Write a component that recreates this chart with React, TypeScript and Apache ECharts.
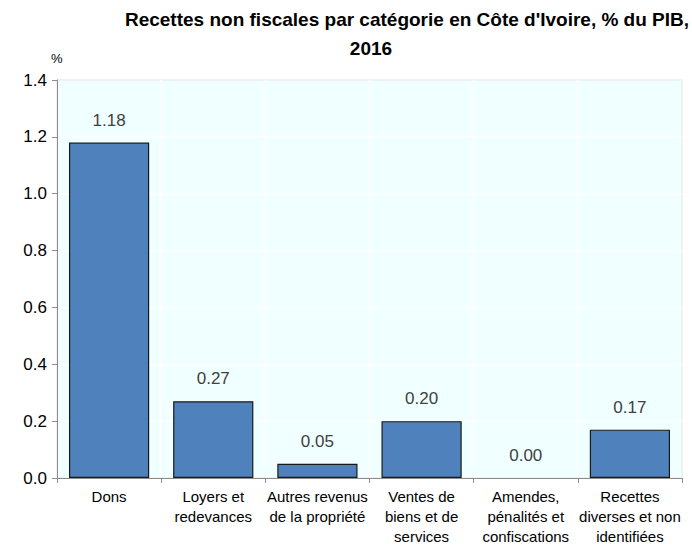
import React, { useEffect, useRef } from "react";
import * as echarts from "echarts";

const categories = [
  "Dons",
  "Loyers et\nredevances",
  "Autres revenus\nde la propriété",
  "Ventes de\nbiens et de\nservices",
  "Amendes,\npénalités et\nconfiscations",
  "Recettes\ndiverses et non\nidentifiées",
];
const values = [1.18, 0.27, 0.05, 0.2, 0.0, 0.17];
const titleLine1 = "Recettes non fiscales par catégorie en Côte d'Ivoire, % du PIB,";
const titleLine2 = "2016";
const yUnit = "%";

const FONT = "'Liberation Sans Narrow', 'Arial Narrow', 'Liberation Sans', Arial, sans-serif";
const TFONT = "'Liberation Sans', Arial, sans-serif";

export default function App() {
  const ref = useRef<HTMLDivElement>(null);
  useEffect(() => {
    if (!ref.current) return;
    const chart = echarts.init(ref.current, null, { renderer: "svg" });
    chart.setOption({
      animation: false,
      backgroundColor: "#ffffff",
      title: [
        {
          text: titleLine1,
          left: 402,
          top: 5,
          textAlign: "center",
          textStyle: { fontFamily: TFONT, fontWeight: "bold", fontSize: 19, color: "#000" },
        },
        {
          text: titleLine2,
          left: 366,
          top: 34,
          textAlign: "center",
          textStyle: { fontFamily: TFONT, fontWeight: "bold", fontSize: 19, color: "#000" },
        },
      ],
      graphic: [
        {
          type: "text",
          left: 51,
          top: 52,
          style: { text: yUnit, fontFamily: FONT, fontSize: 13, fill: "#000" },
        },
      ],
      grid: {
        left: 57,
        right: 10,
        top: 80,
        bottom: 66,
        show: true,
        backgroundColor: "#F0FFFF",
        borderColor: "#8c8c8c",
        borderWidth: 1,
      },
      xAxis: {
        type: "category",
        data: categories,
        axisLine: { show: true, lineStyle: { color: "#8c8c8c", width: 1 } },
        axisTick: { show: true, length: 5, lineStyle: { color: "#8c8c8c" } },
        splitLine: { show: true, lineStyle: { color: "#ffffff", width: 1.5 } },
        axisLabel: {
          interval: 0,
          fontFamily: FONT,
          fontSize: 15,
          color: "#000",
          lineHeight: 20,
          margin: 8,
        },
      },
      yAxis: {
        type: "value",
        min: 0,
        max: 1.4,
        interval: 0.2,
        axisLine: { show: true, lineStyle: { color: "#8c8c8c", width: 1 } },
        axisTick: { show: true, length: 5, lineStyle: { color: "#8c8c8c" } },
        splitLine: { show: true, lineStyle: { color: "#ffffff", width: 1.5 } },
        axisLabel: {
          fontFamily: FONT,
          fontSize: 17,
          color: "#000",
          margin: 10,
          formatter: (v: number) => v.toFixed(1),
        },
      },
      series: [
        {
          type: "bar",
          data: values.map((v) => (v === 0 ? { value: v, itemStyle: { borderWidth: 0 } } : v)),
          barWidth: "77%",
          itemStyle: { color: "#4F81BD", borderColor: "#1a1a1a", borderWidth: 1.2 },
          label: {
            show: true,
            position: "top",
            distance: 14,
            fontFamily: FONT,
            fontSize: 17,
            color: "#404040",
            formatter: (p: any) => Number(p.value).toFixed(2),
          },
        },
      ],
    });
    return () => chart.dispose();
  }, []);
  return <div ref={ref} style={{ width: 692, height: 546, position: "absolute", left: 0, top: 0 }} />;
}
